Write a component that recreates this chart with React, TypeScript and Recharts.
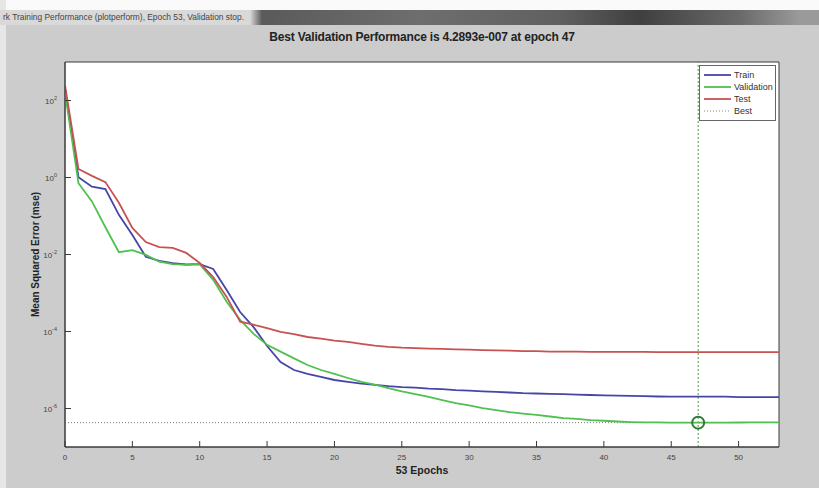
import React from "react";
import {
  LineChart,
  Line,
  XAxis,
  YAxis,
  CartesianGrid,
  ReferenceLine,
  ReferenceDot,
  ReferenceArea,
} from "recharts";

// mean squared error per epoch (0..53)
const trainMse = [
  200, 1.02, 0.575, 0.5, 0.107, 0.032, 8.7e-3, 6.8e-3, 6.0e-3, 5.5e-3,
  5.6e-3, 4.2e-3, 1.2e-3, 3.2e-4, 1.3e-4, 4.2e-5, 1.6e-5, 1.0e-5, 7.9e-6, 6.6e-6,
  5.5e-6, 4.9e-6, 4.4e-6, 4.1e-6, 3.8e-6, 3.6e-6, 3.5e-6, 3.3e-6, 3.2e-6, 3.0e-6,
  2.9e-6, 2.8e-6, 2.7e-6, 2.6e-6, 2.5e-6, 2.45e-6, 2.4e-6, 2.35e-6, 2.3e-6, 2.24e-6,
  2.2e-6, 2.15e-6, 2.12e-6, 2.1e-6, 2.05e-6, 2.03e-6, 2.03e-6, 2.03e-6, 2.03e-6, 2.03e-6,
  1.97e-6, 1.97e-6, 1.97e-6, 1.97e-6,
];
const validationMse = [
  160, 0.71, 0.24, 0.051, 0.0115, 0.013, 9.8e-3, 6.5e-3, 5.6e-3, 5.4e-3,
  5.6e-3, 2.2e-3, 5.9e-4, 2.0e-4, 8.7e-5, 4.5e-5, 3.0e-5, 2.0e-5, 1.35e-5, 1.0e-5,
  7.9e-6, 6.2e-6, 4.9e-6, 4.2e-6, 3.4e-6, 2.8e-6, 2.35e-6, 2.0e-6, 1.66e-6, 1.38e-6,
  1.2e-6, 1.02e-6, 9.1e-7, 8.1e-7, 7.4e-7, 6.8e-7, 6.2e-7, 5.6e-7, 5.4e-7, 5.0e-7,
  4.8e-7, 4.6e-7, 4.45e-7, 4.38e-7, 4.34e-7, 4.31e-7, 4.3e-7, 4.2893e-7, 4.3e-7, 4.31e-7,
  4.33e-7, 4.35e-7, 4.37e-7, 4.38e-7,
];
const testMse = [
  250, 1.66, 1.1, 0.76, 0.22, 0.049, 0.021, 0.0155, 0.0148, 0.011,
  6.0e-3, 2.6e-3, 7.9e-4, 1.8e-4, 1.5e-4, 1.23e-4, 9.8e-5, 8.5e-5, 7.2e-5, 6.5e-5,
  5.8e-5, 5.4e-5, 4.8e-5, 4.3e-5, 4.0e-5, 3.8e-5, 3.7e-5, 3.6e-5, 3.55e-5, 3.45e-5,
  3.4e-5, 3.3e-5, 3.25e-5, 3.2e-5, 3.1e-5, 3.1e-5, 3.0e-5, 3.0e-5, 3.0e-5, 2.95e-5,
  2.95e-5, 2.95e-5, 2.95e-5, 2.95e-5, 2.9e-5, 2.9e-5, 2.9e-5, 2.9e-5, 2.9e-5, 2.9e-5,
  2.9e-5, 2.9e-5, 2.9e-5, 2.9e-5,
];

const xTicks = [0, 5, 10, 15, 20, 25, 30, 35, 40, 45, 50];
const yTicks = [1e-6, 1e-4, 1e-2, 1, 1e2];
const bestEpoch = 47;
const bestPerf = 4.2893e-7;

const rows = trainMse.map((v, i) => ({
  epoch: i,
  train: v,
  validation: validationMse[i],
  test: testMse[i],
}));

const FONT = '"Liberation Sans", Arial, sans-serif';
const AXIS = "#3a3a3a";
const C_TRAIN = "#4646a8";
const C_VAL = "#50c050";
const C_TEST = "#c65252";

const legendItems = [
  { name: "Train", color: C_TRAIN, dash: undefined },
  { name: "Validation", color: C_VAL, dash: undefined },
  { name: "Test", color: C_TEST, dash: undefined },
  { name: "Best", color: "#888", dash: "1 2" },
];

function XTick(props: any) {
  const { x, y, payload } = props;
  return (
    <g>
      <line x1={x} y1={y} x2={x} y2={y - 6} stroke={AXIS} />
      <text x={x} y={y + 13} textAnchor="middle" fontSize={8} fill="#444" fontFamily={FONT}>
        {payload.value}
      </text>
    </g>
  );
}

function YTick(props: any) {
  const { x, y, payload } = props;
  const exp = Math.round(Math.log10(payload.value));
  return (
    <g>
      <line x1={x} y1={y} x2={x + 6} y2={y} stroke={AXIS} />
      <text x={x - 8} y={y + 3} textAnchor="end" fontSize={8} fill="#444" fontFamily={FONT}>
        10
        <tspan dy={-4} fontSize={5.5}>
          {exp}
        </tspan>
      </text>
    </g>
  );
}

export default function App() {
  return (
    <div
      style={{
        position: "absolute",
        left: 0,
        top: 0,
        width: 819,
        height: 488,
        background: "#cccccc",
        overflow: "hidden",
        fontFamily: FONT,
      }}
    >
      {/* window chrome */}
      <div style={{ position: "absolute", left: 0, top: 0, width: 819, height: 10, background: "#fafafa" }} />
      <div style={{ position: "absolute", left: 0, top: 0, width: 6, height: 488, background: "#e6e6e6" }} />
      <div
        style={{
          position: "absolute",
          left: 0,
          top: 10,
          width: 819,
          height: 15,
          background:
            "linear-gradient(to right, #d9d9d9 0px, #d9d9d9 250px, #5a5a5a 262px, #6e6e6e 420px, #606060 560px, #3f3f3f 640px, #6a6a6a 740px, #9a9a9a 800px)",
        }}
      >
        <span style={{ position: "absolute", left: 3, top: 2, fontSize: 8.4, color: "#444", whiteSpace: "nowrap" }}>
          rk Training Performance (plotperform), Epoch 53, Validation stop.
        </span>
      </div>

      <div
        style={{
          position: "absolute",
          left: 65,
          width: 714,
          top: 30,
          textAlign: "center",
          fontSize: 12,
          fontWeight: "bold",
          color: "#222",
          letterSpacing: -0.2,
        }}
      >
        Best Validation Performance is 4.2893e-007 at epoch 47
      </div>

      <div style={{ position: "absolute", left: 0, top: 0 }}>
        <LineChart width={819} height={488} data={rows} margin={{ top: 62, right: 40, bottom: 11, left: 5 }}>
          <CartesianGrid horizontal={false} vertical={false} fill="#ffffff" />
          <XAxis
            dataKey="epoch"
            type="number"
            domain={[0, 53]}
            ticks={xTicks}
            allowDataOverflow
            height={30}
            tickSize={0}
            tickMargin={0}
            tick={<XTick />}
            axisLine={{ stroke: AXIS }}
            label={{
              value: "53 Epochs",
              position: "insideBottom",
              offset: 3,
              fontSize: 10.5,
              fontWeight: "bold",
              fill: "#222",
              fontFamily: FONT,
            }}
          />
          <YAxis
            scale="log"
            domain={[1e-7, 1e3]}
            ticks={yTicks}
            allowDataOverflow
            width={60}
            tickSize={0}
            tickMargin={0}
            tick={<YTick />}
            axisLine={{ stroke: AXIS }}
            label={{
              value: "Mean Squared Error  (mse)",
              angle: -90,
              position: "center",
              fontSize: 10,
              fontWeight: "bold",
              fill: "#222",
              fontFamily: FONT,
            }}
          />
          <ReferenceArea x1={0} x2={53} y1={1e-7} y2={1e3} fill="none" stroke={AXIS} strokeWidth={1} />
          <ReferenceLine y={bestPerf} stroke="#7a7a7a" strokeDasharray="1 2" />
          <ReferenceLine x={bestEpoch} stroke="#4c9a4c" strokeDasharray="2 2" />
          <Line dataKey="train" stroke={C_TRAIN} strokeWidth={1.8} dot={false} isAnimationActive={false} />
          <Line dataKey="validation" stroke={C_VAL} strokeWidth={1.8} dot={false} isAnimationActive={false} />
          <Line dataKey="test" stroke={C_TEST} strokeWidth={1.8} dot={false} isAnimationActive={false} />
          <ReferenceDot x={bestEpoch} y={bestPerf} r={6} fill="none" stroke="#2f7a34" strokeWidth={2} />
        </LineChart>
      </div>

      {/* legend */}
      <div
        style={{
          position: "absolute",
          left: 699,
          top: 65,
          width: 75,
          height: 51,
          background: "#ffffff",
          border: "1px solid #666",
          paddingTop: 3,
          boxSizing: "content-box",
        }}
      >
        {legendItems.map((it) => (
          <div key={it.name} style={{ display: "flex", alignItems: "center", height: 12 }}>
            <svg width={34} height={12} style={{ flex: "none" }}>
              <line x1={4} x2={31} y1={6} y2={6} stroke={it.color} strokeWidth={it.dash ? 1 : 1.8} strokeDasharray={it.dash} />
            </svg>
            <span style={{ fontSize: 9, color: "#333" }}>{it.name}</span>
          </div>
        ))}
      </div>
    </div>
  );
}
